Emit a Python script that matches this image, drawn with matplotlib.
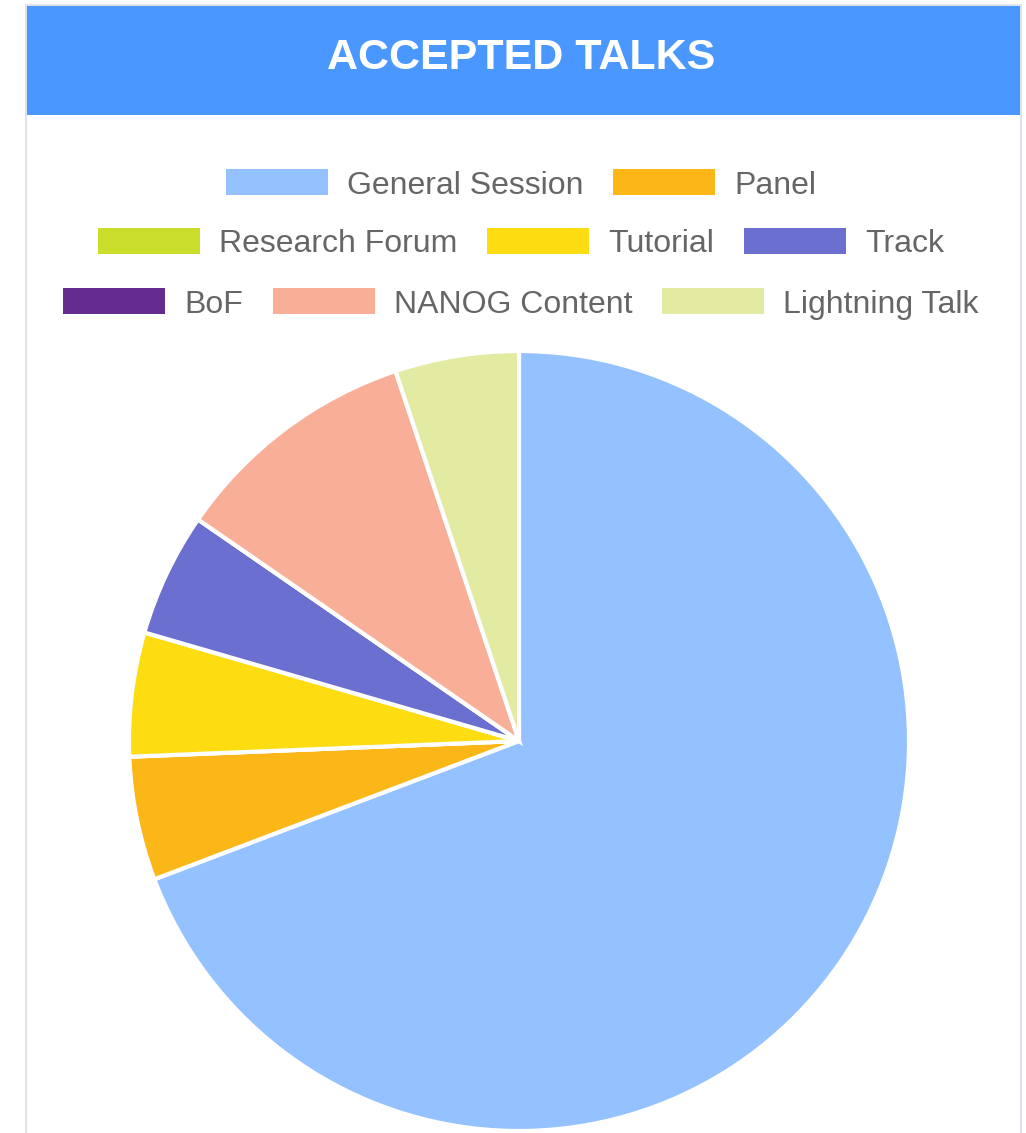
import matplotlib
matplotlib.use("Agg")
import matplotlib.pyplot as plt
from matplotlib.patches import Rectangle

categories = ["General Session", "Panel", "Research Forum", "Tutorial", "Track",
              "BoF", "NANOG Content", "Lightning Talk"]
values = [27, 2, 0, 2, 2, 0, 4, 2]
colors = ["#94C1FF", "#FBB617", "#CADD2A", "#FDDC12", "#6B6FD0",
          "#652B8E", "#F9AE98", "#E3EBA2"]
legend_rows = [[0, 1], [2, 3, 4], [5, 6, 7]]
title = "ACCEPTED TALKS"

W, H = 1026, 1133
fig = plt.figure(figsize=(W / 100, H / 100), dpi=100)
fig.patch.set_facecolor("white")

def fx(x):
    return x / W

def fy(y):
    return 1 - y / H

# card border
fig.patches.append(Rectangle((fx(26), fy(1140)), fx(995), (1135) / H,
                             transform=fig.transFigure, facecolor="white",
                             edgecolor="#DDE3EE", linewidth=1.5, zorder=-2))
# header
fig.patches.append(Rectangle((fx(27), fy(115)), fx(993), (115 - 6) / H,
                             transform=fig.transFigure, facecolor="#4A98FF",
                             edgecolor="none", zorder=-1))
fig.text(fx(521), fy(58), title, color="white", fontsize=31, fontweight="bold",
         family="Liberation Sans", ha="center", va="center", zorder=2)

# legend
renderer = fig.canvas.get_renderer()
fs = 23
box_w, box_h, gap_bt, gap_items = 102, 26, 19, 30
row_y = [182, 241, 301]
for r, idxs in enumerate(legend_rows):
    widths = []
    for i in idxs:
        t = fig.text(0, 0, categories[i], fontsize=fs, family="Liberation Sans")
        bb = t.get_window_extent(renderer)
        widths.append(bb.width)
        t.remove()
    total = sum(box_w + gap_bt + w for w in widths) + gap_items * (len(idxs) - 1)
    x = 521 - total / 2
    y = row_y[r]
    for i, w in zip(idxs, widths):
        fig.patches.append(Rectangle((fx(x), fy(y + box_h / 2)), box_w / W, box_h / H,
                                     transform=fig.transFigure, facecolor=colors[i],
                                     edgecolor="none", zorder=2))
        fig.text(fx(x + box_w + gap_bt), fy(y), categories[i], fontsize=fs,
                 family="Liberation Sans", color="#666666", ha="left", va="center_baseline")
        x += box_w + gap_bt + w + gap_items

# pie
cx, cy, r = 519, 741, 390
ax = fig.add_axes([fx(cx - r), fy(cy + r), 2 * r / W, 2 * r / H])
ax.set_zorder(1)
ax.pie(values, colors=colors, startangle=90, counterclock=False,
       wedgeprops=dict(edgecolor="white", linewidth=3))
ax.set_xlim(-1, 1)
ax.set_ylim(-1, 1)
ax.set_aspect("auto")
ax.axis("off")

fig.savefig("out.png", dpi=100, facecolor="white")
